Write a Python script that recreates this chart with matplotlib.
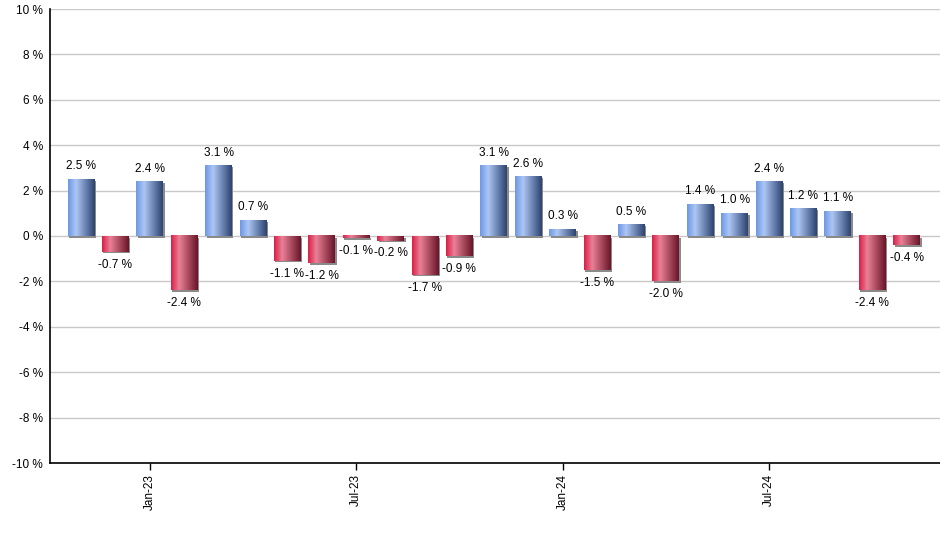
import numpy as np
import matplotlib.pyplot as plt
from matplotlib.colors import LinearSegmentedColormap
import matplotlib.transforms as mtransforms

plt.rcParams['font.family'] = ['Liberation Sans', 'DejaVu Sans']

months = ['Nov-22', 'Dec-22', 'Jan-23', 'Feb-23', 'Mar-23', 'Apr-23', 'May-23',
          'Jun-23', 'Jul-23', 'Aug-23', 'Sep-23', 'Oct-23', 'Nov-23', 'Dec-23',
          'Jan-24', 'Feb-24', 'Mar-24', 'Apr-24', 'May-24', 'Jun-24', 'Jul-24',
          'Aug-24', 'Sep-24', 'Oct-24', 'Nov-24']
returns = [2.5, -0.7, 2.4, -2.4, 3.1, 0.7, -1.1, -1.2, -0.1, -0.2, -1.7, -0.9,
           3.1, 2.6, 0.3, -1.5, 0.5, -2.0, 1.4, 1.0, 2.4, 1.2, 1.1, -2.4, -0.4]
tick_months = ['Jan-23', 'Jul-23', 'Jan-24', 'Jul-24']

blue = LinearSegmentedColormap.from_list(
    'b', [(0, '#6d98e6'), (0.3, '#adc6f4'), (1, '#2d4470')])
red = LinearSegmentedColormap.from_list(
    'r', [(0, '#d81f48'), (0.3, '#ea8096'), (1, '#6a1528')])
grad = np.linspace(0, 1, 64).reshape(1, -1)

fig = plt.figure(figsize=(9.4, 5.5), dpi=100)
ax = fig.add_axes([50 / 940, 87 / 550, 890 / 940, 454 / 550])

x = np.arange(len(returns))
w = 0.78
shadow = mtransforms.offset_copy(ax.transData, fig=fig, x=1.5, y=-1.5, units='dots')
for xi, v in zip(x, returns):
    ax.bar(xi, v, width=w, color='#8a8a8a', transform=shadow, zorder=2)
    ax.imshow(grad, cmap=blue if v >= 0 else red, aspect='auto',
              extent=(xi - w / 2, xi + w / 2, min(0, v), max(0, v)),
              zorder=3, interpolation='bilinear')
    if v >= 0:
        ax.annotate(f'{v:.1f} %', (xi, v), xytext=(0, 5), textcoords='offset points',
                    ha='center', va='bottom', fontsize=8.5)
    else:
        ax.annotate(f'{v:.1f} %', (xi, v), xytext=(0, -5), textcoords='offset points',
                    ha='center', va='top', fontsize=8.5)

ax.set_xlim(-0.9, 24.97)
ax.set_ylim(-10, 10)
ax.set_yticks(range(-10, 11, 2))
ax.set_yticklabels([f'{t} %' for t in range(-10, 11, 2)], fontsize=8.5)
ax.set_xticks([months.index(m) for m in tick_months])
ax.set_xticklabels(tick_months, rotation=90, fontsize=8.5)
ax.tick_params(axis='y', length=0, pad=5)
ax.tick_params(axis='x', length=5, width=1, pad=3)
ax.grid(axis='y', color='#c8c8c8', linewidth=1, zorder=0)
ax.set_axisbelow(True)
for s in ['top', 'right']:
    ax.spines[s].set_visible(False)
for s in ['left', 'bottom']:
    ax.spines[s].set_linewidth(1.2)

fig.savefig('out.png', dpi=100)
